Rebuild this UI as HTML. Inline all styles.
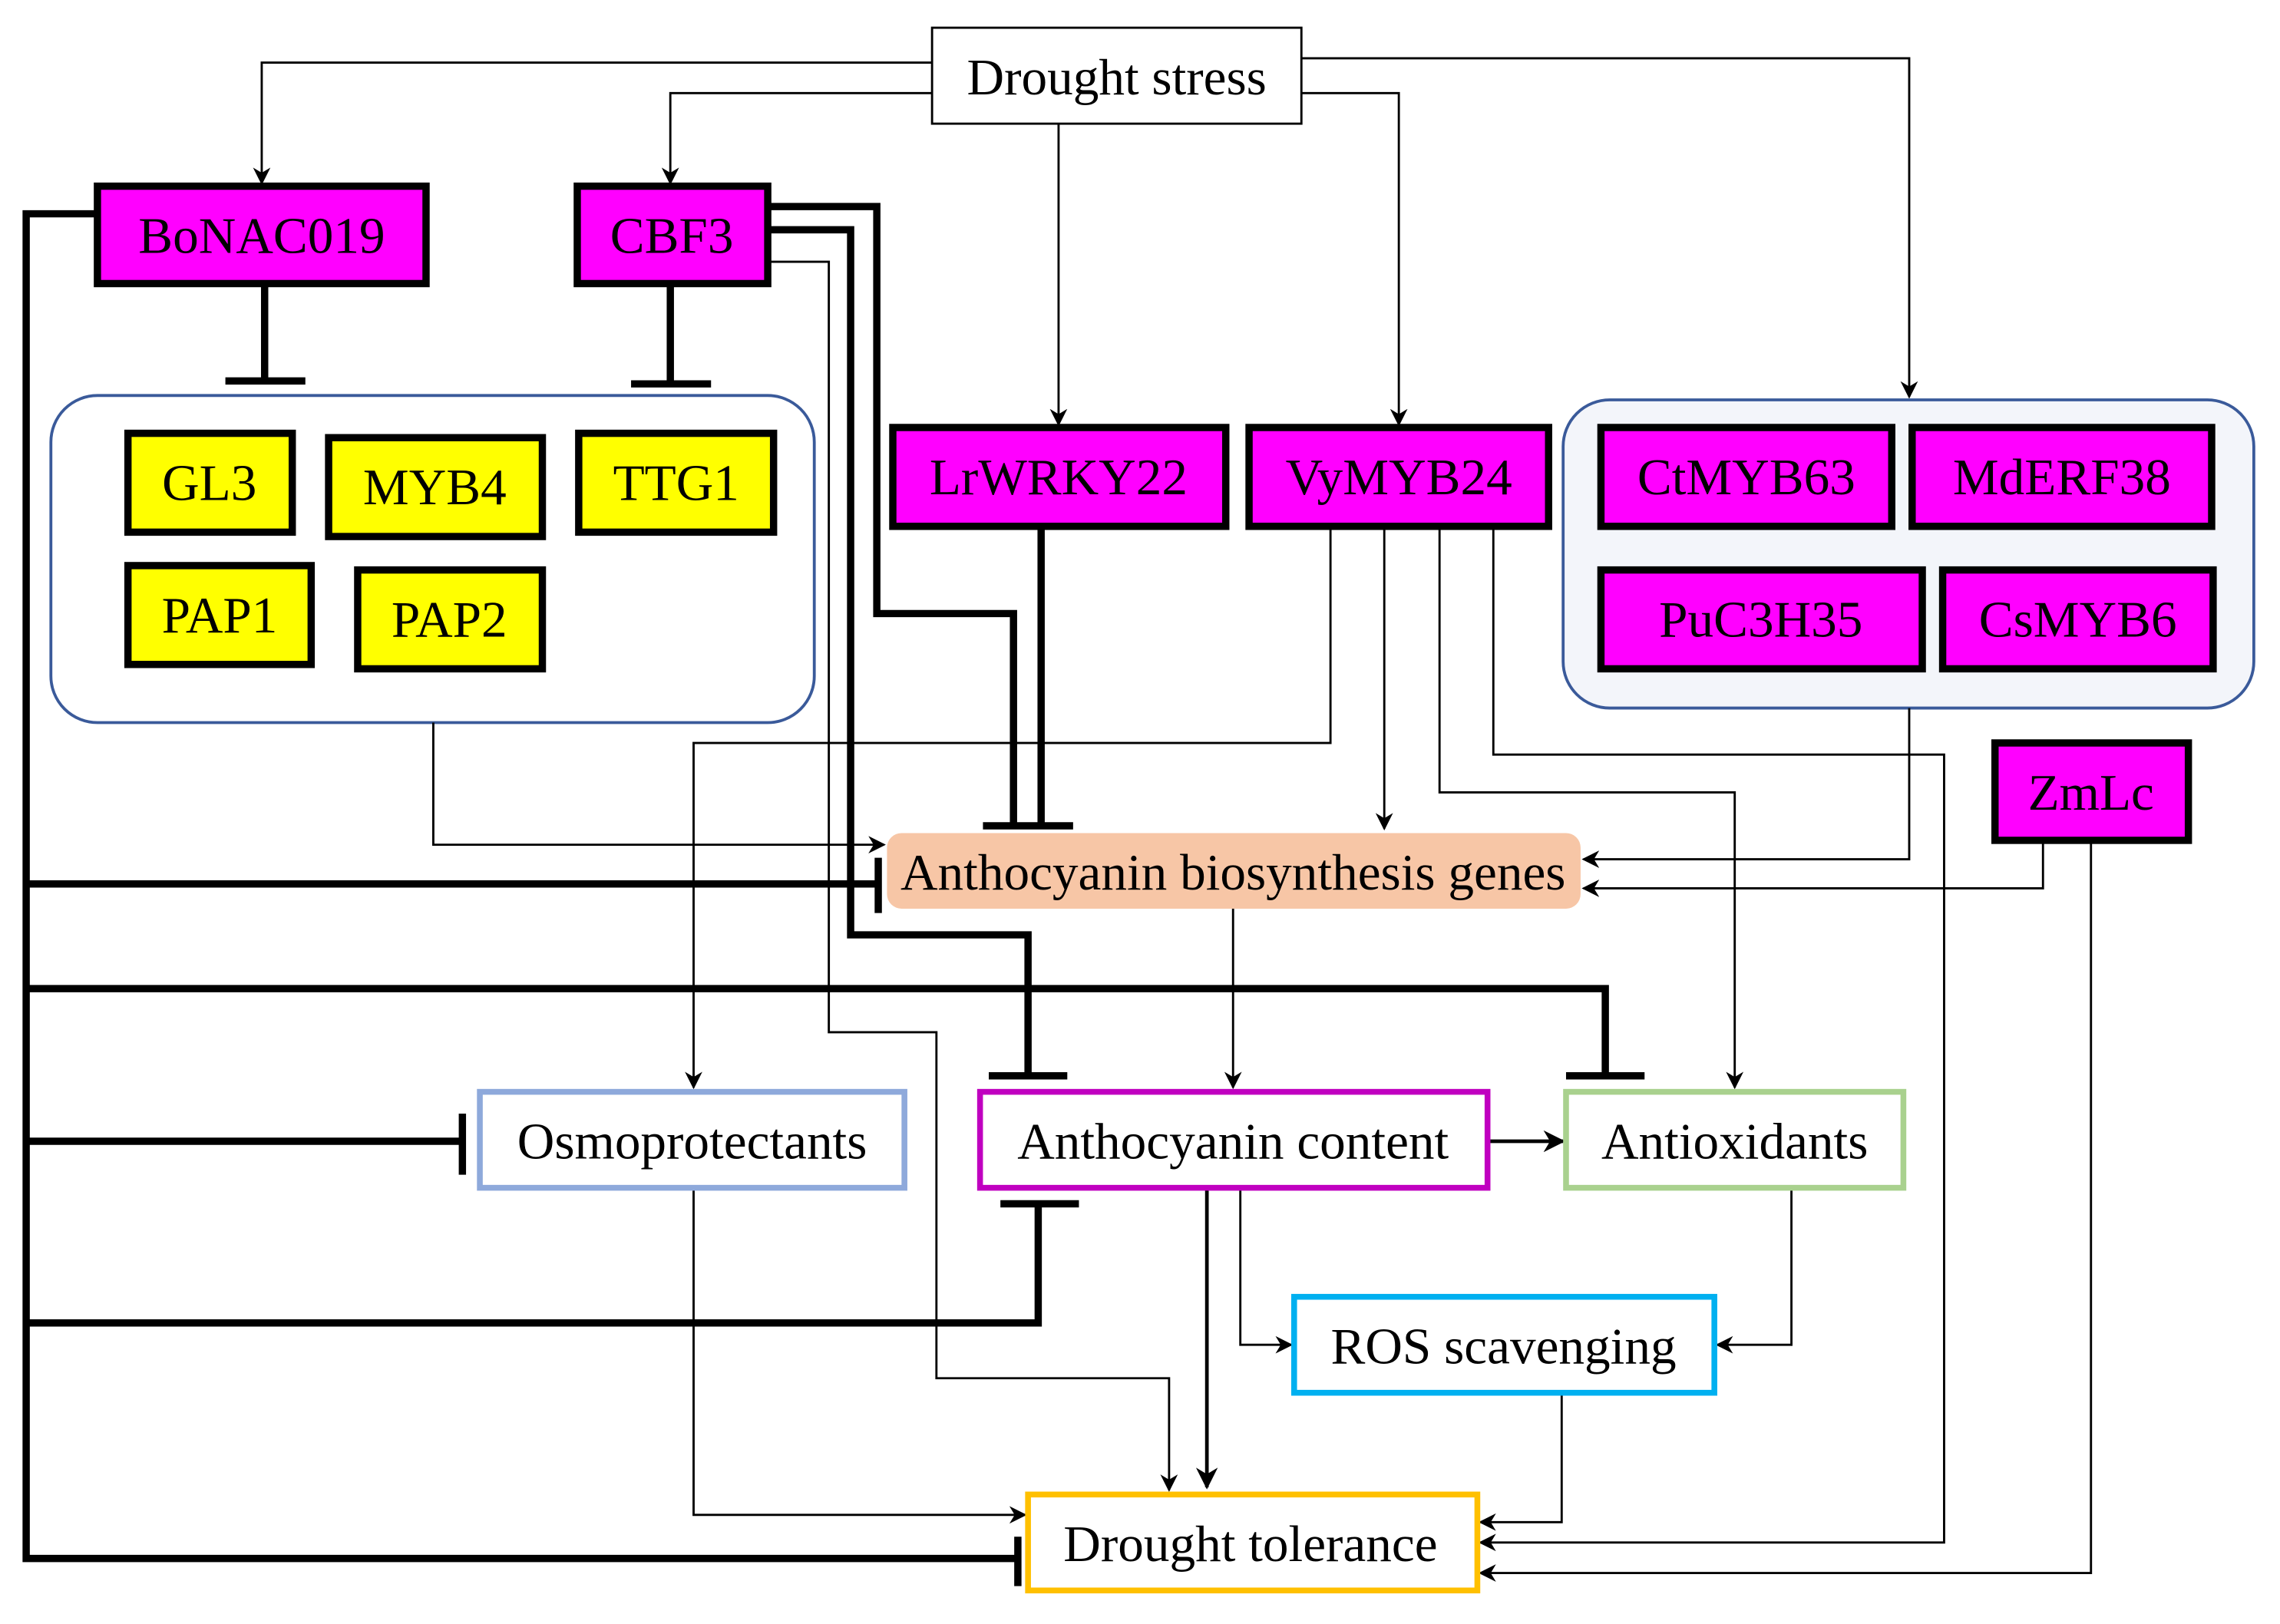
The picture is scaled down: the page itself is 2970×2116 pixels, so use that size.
<!DOCTYPE html>
<html><head><meta charset="utf-8"><style>
html,body{margin:0;padding:0;background:#fff;}
svg{display:block;}
text{font-family:"Liberation Serif",serif;font-size:35.5px;fill:#000;text-anchor:middle;dominant-baseline:central;}
</style></head><body>
<svg width="2970" height="2116" viewBox="0 0 1568 1117" xmlns="http://www.w3.org/2000/svg">
<defs>
<marker id="a" viewBox="0 0 10 10" refX="9" refY="5" markerWidth="12" markerHeight="12" markerUnits="userSpaceOnUse" orient="auto">
<path d="M0,0 L10,5 L0,10 L3,5 z" fill="#000"/></marker>
<marker id="b" viewBox="0 0 10 10" refX="9" refY="5" markerWidth="15" markerHeight="15" markerUnits="userSpaceOnUse" orient="auto">
<path d="M0,0 L10,5 L0,10 L3,5 z" fill="#000"/></marker>
</defs>
<rect x="35" y="272" width="525" height="225" rx="32" fill="#fff" stroke="#3a5a9a" stroke-width="2"/>
<rect x="1075" y="275" width="475" height="212" rx="32" fill="#f3f5fa" stroke="#3a5a9a" stroke-width="2"/>

<g fill="none" stroke="#000" stroke-width="1.5">
<polyline points="641,43 180,43 180,126" marker-end="url(#a)"/>
<polyline points="641,64 461,64 461,126" marker-end="url(#a)"/>
<polyline points="728,85 728,292" marker-end="url(#a)"/>
<polyline points="895,64 962,64 962,292" marker-end="url(#a)"/>
<polyline points="895,40 1313,40 1313,273" marker-end="url(#a)"/>
<polyline points="528,180 570,180 570,710 644,710 644,948 804,948 804,1025" marker-end="url(#a)"/>
<polyline points="915,362 915,511 477,511 477,748" marker-end="url(#a)"/>
<polyline points="952,362 952,570" marker-end="url(#a)"/>
<polyline points="990,362 990,545 1193,545 1193,748" marker-end="url(#a)"/>
<polyline points="1027,362 1027,519 1337,519 1337,1061 1018,1061" marker-end="url(#a)"/>
<polyline points="298,497 298,581 608,581" marker-end="url(#a)"/>
<polyline points="1313,487 1313,591 1089,591" marker-end="url(#a)"/>
<polyline points="1405,578 1405,611 1089,611" marker-end="url(#a)"/>
<polyline points="1438,578 1438,1082 1018,1082" marker-end="url(#a)"/>
<polyline points="848,625 848,748" marker-end="url(#a)"/>
<polyline points="853,817 853,925 888,925" marker-end="url(#a)"/>
<polyline points="1232,817 1232,925 1181,925" marker-end="url(#a)"/>
<polyline points="1074,958 1074,1047 1018,1047" marker-end="url(#a)"/>
<polyline points="477,817 477,1042 705,1042" marker-end="url(#a)"/>
<polyline points="1023,785 1075,785" stroke-width="2.5" marker-end="url(#b)"/>
<polyline points="830,817 830,1023" stroke-width="2.5" marker-end="url(#b)"/>
</g>

<g fill="none" stroke="#000" stroke-width="5">
<polyline points="182,195 182,262"/><line x1="155" y1="262" x2="210" y2="262"/>
<polyline points="461,195 461,264"/><line x1="434" y1="264" x2="489" y2="264"/>
<polyline points="67,147 18,147 18,1072 700,1072"/><line x1="700" y1="1057" x2="700" y2="1091"/>
<polyline points="18,608 604,608"/><line x1="604" y1="590" x2="604" y2="628"/>
<polyline points="18,680 1104,680 1104,740"/><line x1="1077" y1="740" x2="1131" y2="740"/>
<polyline points="18,785 318,785"/><line x1="318" y1="766" x2="318" y2="808"/>
<polyline points="18,910 714,910 714,828"/><line x1="688" y1="828" x2="742" y2="828"/>
<polyline points="528,142 603,142 603,422 697,422 697,568"/>
<polyline points="716,362 716,568"/><line x1="676" y1="568" x2="738" y2="568"/>
<polyline points="528,158 585,158 585,643 707,643 707,740"/><line x1="680" y1="740" x2="734" y2="740"/>
</g>

<rect x="641" y="19" width="254" height="66" fill="#fff" stroke="#000" stroke-width="1.5"/>
<text x="768" y="53">Drought stress</text>

<g fill="#ff00ff" stroke="#000" stroke-width="5">
<rect x="67" y="128" width="226" height="67"/>
<rect x="397" y="128" width="131" height="67"/>
<rect x="614" y="294" width="229" height="68"/>
<rect x="859" y="294" width="206" height="68"/>
<rect x="1101" y="294" width="200" height="68"/>
<rect x="1315" y="294" width="206" height="68"/>
<rect x="1101" y="392" width="221" height="68"/>
<rect x="1336" y="392" width="186" height="68"/>
<rect x="1372" y="511" width="133" height="67"/>
</g>
<g fill="#ffff00" stroke="#000" stroke-width="5">
<rect x="88" y="298" width="113" height="68"/>
<rect x="226" y="301" width="147" height="68"/>
<rect x="398" y="298" width="134" height="68"/>
<rect x="88" y="389" width="126" height="68"/>
<rect x="246" y="392" width="127" height="68"/>
</g>
<text x="180" y="162">BoNAC019</text>
<text x="462" y="162">CBF3</text>
<text x="728" y="328">LrWRKY22</text>
<text x="962" y="328">VyMYB24</text>
<text x="1201" y="328">CtMYB63</text>
<text x="1418" y="328">MdERF38</text>
<text x="1211" y="426">PuC3H35</text>
<text x="1429" y="426">CsMYB6</text>
<text x="1438" y="545">ZmLc</text>
<text x="144" y="332">GL3</text>
<text x="299" y="335">MYB4</text>
<text x="465" y="332">TTG1</text>
<text x="151" y="423">PAP1</text>
<text x="309" y="426">PAP2</text>

<rect x="610" y="573" width="477" height="52" rx="10" fill="#f7c6a6"/>
<text x="848" y="600">Anthocyanin biosynthesis genes</text>

<g fill="#fff" stroke-width="4">
<rect x="330" y="751" width="292" height="66" stroke="#8ea9db"/>
<rect x="674" y="751" width="349" height="66" stroke="#c000c0"/>
<rect x="1077" y="751" width="232" height="66" stroke="#a9d18e"/>
<rect x="890" y="892" width="289" height="66" stroke="#00b0f0"/>
<rect x="707" y="1028" width="309" height="66" stroke="#ffc000"/>
</g>
<text x="476" y="785">Osmoprotectants</text>
<text x="848" y="785">Anthocyanin content</text>
<text x="1193" y="785">Antioxidants</text>
<text x="1034" y="926">ROS scavenging</text>
<text x="860" y="1062">Drought tolerance</text>
</svg>
</body></html>
